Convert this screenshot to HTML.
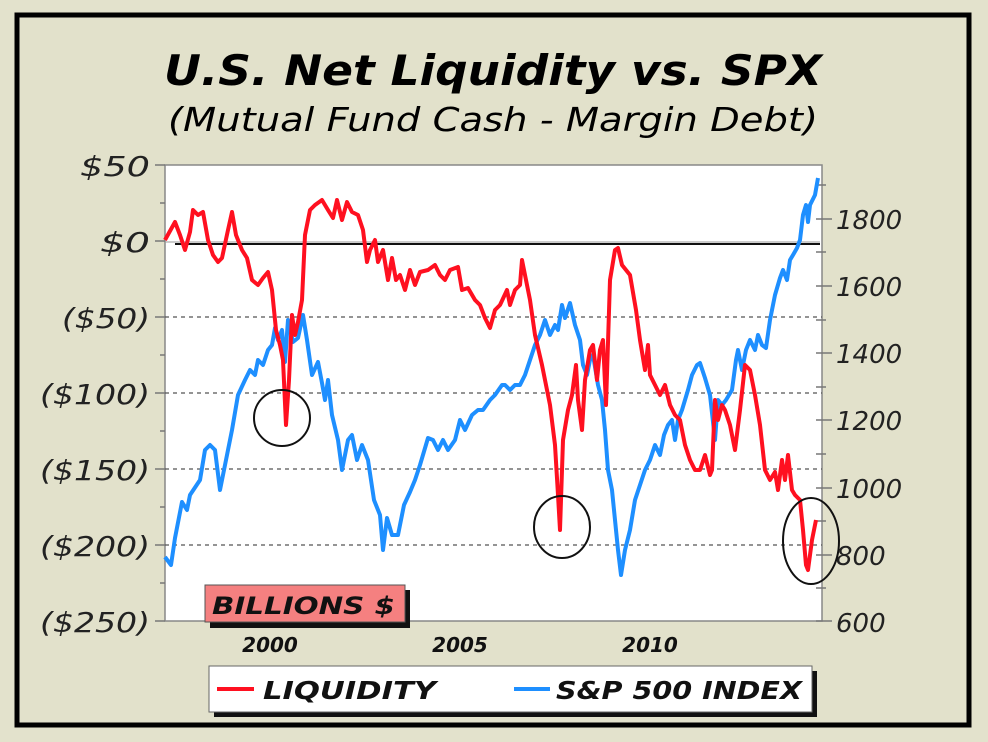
<!DOCTYPE html>
<html><head><meta charset="utf-8"><style>
body{margin:0;width:988px;height:742px;background:#e3e2cc;overflow:hidden}
svg{display:block}
text{font-family:"DejaVu Sans","Liberation Sans",sans-serif;font-style:oblique}
</style></head><body>
<svg width="988" height="742" viewBox="0 0 988 742">
<rect x="0" y="0" width="988" height="742" fill="#e3e2cc"/>
<rect x="17" y="15" width="952" height="710" fill="#e2e1cb" stroke="#000" stroke-width="5"/>
<text x="164" y="85" font-size="42" font-weight="bold" textLength="658" lengthAdjust="spacingAndGlyphs">U.S. Net Liquidity vs. SPX</text>
<text x="168" y="131" font-size="33" textLength="650" lengthAdjust="spacingAndGlyphs">(Mutual Fund Cash - Margin Debt)</text>
<rect x="165" y="165" width="657" height="456" fill="#fff" stroke="#888" stroke-width="1.5"/>
<g stroke="#555" stroke-width="1.2" stroke-dasharray="4,4">
<line x1="165" y1="317" x2="822" y2="317"/><line x1="165" y1="393" x2="822" y2="393"/>
<line x1="165" y1="469" x2="822" y2="469"/><line x1="165" y1="545" x2="822" y2="545"/>
</g>
<line x1="165" y1="242" x2="820" y2="242" stroke="#999" stroke-width="1"/>
<line x1="175" y1="244" x2="820" y2="244" stroke="#111" stroke-width="2"/>
<g stroke="#777" stroke-width="1.5">
<line x1="155" y1="165" x2="165" y2="165"/><line x1="160" y1="203" x2="165" y2="203"/>
<line x1="155" y1="241" x2="165" y2="241"/><line x1="160" y1="279" x2="165" y2="279"/>
<line x1="155" y1="317" x2="165" y2="317"/><line x1="160" y1="355" x2="165" y2="355"/>
<line x1="155" y1="393" x2="165" y2="393"/><line x1="160" y1="431" x2="165" y2="431"/>
<line x1="155" y1="469" x2="165" y2="469"/><line x1="160" y1="507" x2="165" y2="507"/>
<line x1="155" y1="545" x2="165" y2="545"/><line x1="160" y1="583" x2="165" y2="583"/>
<line x1="155" y1="621" x2="165" y2="621"/>
<line x1="816" y1="185" x2="826" y2="185"/><line x1="816" y1="219" x2="832" y2="219"/>
<line x1="816" y1="252" x2="826" y2="252"/><line x1="816" y1="286" x2="832" y2="286"/>
<line x1="816" y1="320" x2="826" y2="320"/><line x1="816" y1="353" x2="832" y2="353"/>
<line x1="816" y1="387" x2="826" y2="387"/><line x1="816" y1="420" x2="832" y2="420"/>
<line x1="816" y1="454" x2="826" y2="454"/><line x1="816" y1="488" x2="832" y2="488"/>
<line x1="816" y1="521" x2="826" y2="521"/><line x1="816" y1="555" x2="832" y2="555"/>
<line x1="816" y1="588" x2="826" y2="588"/><line x1="816" y1="621" x2="832" y2="621"/>
</g>
<g font-size="28" fill="#222">
<text x="80" y="176" textLength="70" lengthAdjust="spacingAndGlyphs">$50</text>
<text x="100" y="252" textLength="50" lengthAdjust="spacingAndGlyphs">$0</text>
<text x="62" y="328" textLength="88" lengthAdjust="spacingAndGlyphs">($50)</text>
<text x="40" y="404" textLength="110" lengthAdjust="spacingAndGlyphs">($100)</text>
<text x="40" y="480" textLength="110" lengthAdjust="spacingAndGlyphs">($150)</text>
<text x="40" y="556" textLength="110" lengthAdjust="spacingAndGlyphs">($200)</text>
<text x="40" y="632" textLength="110" lengthAdjust="spacingAndGlyphs">($250)</text>
</g>
<g font-size="26" fill="#222">
<text x="836" y="229">1800</text><text x="836" y="296">1600</text>
<text x="836" y="363">1400</text><text x="836" y="430">1200</text>
<text x="836" y="498">1000</text><text x="836" y="565">800</text>
<text x="836" y="632">600</text>
</g>
<g font-size="20" font-weight="bold" fill="#111" text-anchor="middle">
<text x="270" y="652">2000</text><text x="460" y="652">2005</text><text x="650" y="652">2010</text>
</g>
<polyline fill="none" stroke="#1e8fff" stroke-width="4" stroke-linejoin="round" points="165,557 171,565 175,538 182,502 187,510 190,495 200,480 205,450 210,445 215,450 220,490 225,465 232,430 238,395 245,380 250,370 255,375 258,360 263,365 268,350 272,345 275,328 278,340 282,330 285,362 288,320 293,342 298,338 303,315 307,340 312,375 318,362 322,383 325,400 328,380 332,415 338,440 342,470 348,440 352,435 357,460 362,445 368,460 374,500 380,515 383,550 387,518 392,535 398,535 404,505 410,492 415,480 420,465 428,438 433,440 438,450 443,440 448,450 455,440 460,420 465,430 472,415 478,410 483,410 490,400 495,395 502,385 505,385 510,390 515,385 520,385 525,375 530,360 535,345 540,335 545,320 550,335 555,325 558,330 562,305 565,318 570,303 575,325 580,340 583,365 587,375 590,360 593,355 598,385 602,400 605,430 608,470 612,490 615,520 618,550 621,575 625,550 630,530 635,500 640,485 645,470 650,460 655,445 660,455 664,435 668,425 672,420 675,440 678,420 682,410 688,390 692,375 697,365 700,363 705,378 710,395 715,440 718,400 722,405 726,400 732,390 736,360 738,350 742,370 746,350 750,340 755,350 758,335 762,345 766,348 770,320 775,295 780,278 783,270 787,280 790,260 793,255 797,248 800,240 803,215 806,205 808,222 810,205 815,195 818,178"/>
<polyline fill="none" stroke="#ff1020" stroke-width="4" stroke-linejoin="round" points="165,240 175,222 180,235 185,250 190,232 193,210 198,215 203,212 208,240 213,255 218,262 222,258 228,230 232,212 236,235 242,250 247,258 252,280 258,285 263,278 268,272 272,290 276,330 280,345 283,360 286,425 289,380 292,315 295,335 298,322 302,300 305,235 310,210 315,205 322,200 328,210 333,218 337,200 342,220 347,202 352,212 358,215 363,230 367,262 370,250 375,240 378,262 383,250 388,280 392,258 396,280 400,275 405,290 410,270 415,285 420,272 428,270 435,265 440,275 445,280 450,270 458,267 462,290 468,288 475,300 480,305 485,318 490,328 495,310 500,305 507,290 510,305 515,290 520,285 522,260 527,285 530,300 535,335 542,365 550,405 555,445 558,495 560,530 563,440 568,410 572,395 576,365 578,400 582,430 585,380 590,350 593,345 597,380 600,350 603,340 606,405 610,280 615,250 618,248 622,265 630,275 636,310 640,340 645,370 648,345 650,375 655,385 660,395 665,385 670,405 675,415 680,420 685,445 690,460 695,470 700,470 705,455 710,475 712,470 715,400 718,420 722,405 725,410 730,425 735,450 740,410 745,365 750,370 755,395 760,425 765,470 770,480 775,472 778,490 782,460 785,480 788,455 792,490 795,495 800,500 803,530 806,565 808,570 812,540 816,520"/>
<g fill="none" stroke="#111" stroke-width="2">
<circle cx="282" cy="418" r="28"/>
<ellipse cx="562" cy="527" rx="28" ry="31"/>
<ellipse cx="811" cy="541" rx="28" ry="43"/>
</g>
<rect x="210" y="590" width="200" height="38" fill="#111"/>
<rect x="205" y="585" width="200" height="37" fill="#f58080" stroke="#555" stroke-width="1"/>
<text x="212" y="614" font-size="24" font-weight="bold" fill="#111" textLength="183" lengthAdjust="spacingAndGlyphs">BILLIONS $</text>
<rect x="214" y="671" width="603" height="46" fill="#111"/>
<rect x="209" y="666" width="603" height="46" fill="#fff" stroke="#666" stroke-width="1"/>
<line x1="217" y1="689" x2="254" y2="689" stroke="#ff1020" stroke-width="4"/>
<text x="263" y="699" font-size="25" font-weight="bold" fill="#111" textLength="173" lengthAdjust="spacingAndGlyphs">LIQUIDITY</text>
<line x1="514" y1="689" x2="550" y2="689" stroke="#1e8fff" stroke-width="4"/>
<text x="556" y="699" font-size="25" font-weight="bold" fill="#111" textLength="246" lengthAdjust="spacingAndGlyphs">S&amp;P 500 INDEX</text>
</svg>
</body></html>
